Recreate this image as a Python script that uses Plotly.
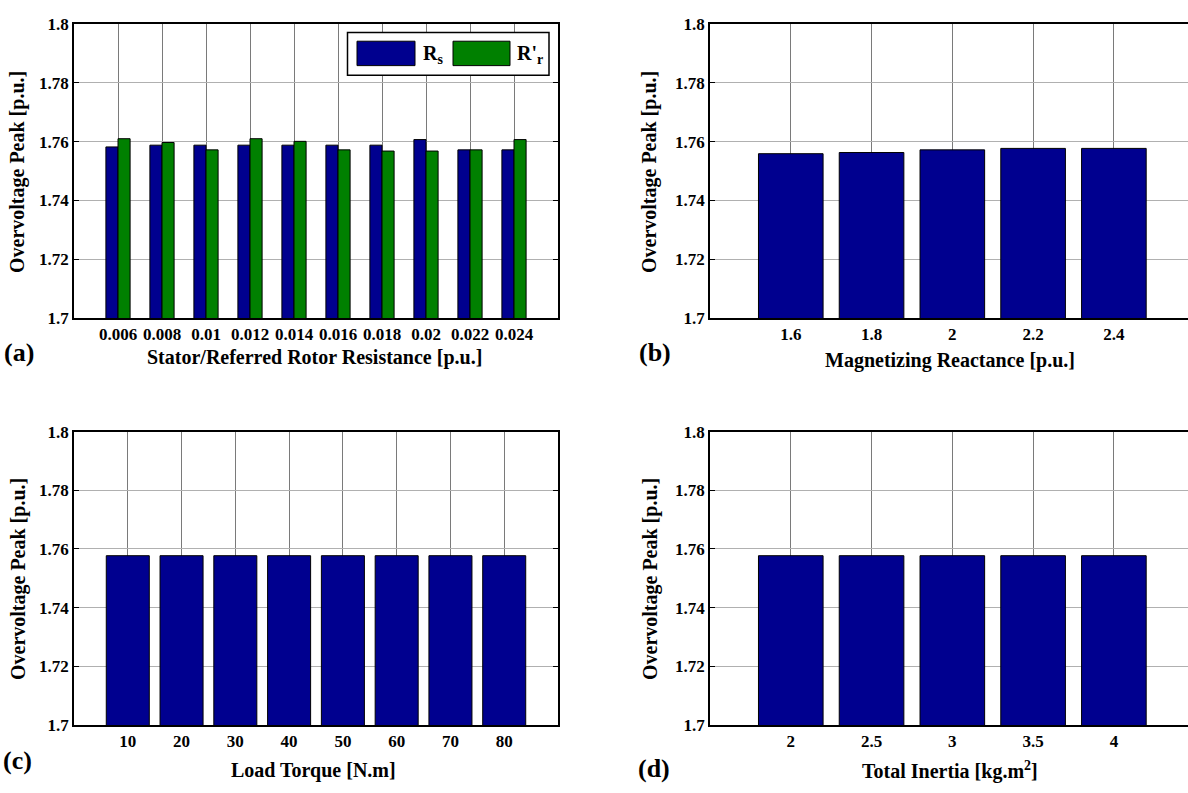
import plotly.graph_objects as go

W, H = 1188, 793

# ---------------- data ----------------
res_labels = ["0.006", "0.008", "0.01", "0.012", "0.014", "0.016", "0.018", "0.02", "0.022", "0.024"]
rs_vals = [1.7582, 1.7588, 1.7588, 1.7588, 1.7588, 1.7588, 1.7588, 1.7607, 1.7572, 1.7572]
rr_vals = [1.7610, 1.7597, 1.7572, 1.7610, 1.7601, 1.7572, 1.7568, 1.7568, 1.7572, 1.7607]

xm_labels = ["1.6", "1.8", "2", "2.2", "2.4"]
xm_vals = [1.7559, 1.7563, 1.7572, 1.7577, 1.7577]

tl_labels = ["10", "20", "30", "40", "50", "60", "70", "80"]
tl_vals = [1.7577, 1.7577, 1.7577, 1.7577, 1.7577, 1.7577, 1.7577, 1.7577]

j_labels = ["2", "2.5", "3", "3.5", "4"]
j_vals = [1.7577, 1.7577, 1.7577, 1.7577, 1.7577]

y_ticks = [1.7, 1.72, 1.74, 1.76, 1.78, 1.8]
y_ticktext = ["1.7", "1.72", "1.74", "1.76", "1.78", "1.8"]

BLUE = "#00008F"
GREEN = "#008000"
FONT = "Liberation Serif"


def px(x):
    return x / W


def py(y):
    return 1 - y / H


fig = go.Figure()

# panel (a)
fig.add_trace(go.Bar(x=res_labels, y=rs_vals, name="Rs", marker=dict(color=BLUE, line=dict(color="black", width=1)),
                     xaxis="x", yaxis="y", showlegend=False))
fig.add_trace(go.Bar(x=res_labels, y=rr_vals, name="R'r", marker=dict(color=GREEN, line=dict(color="black", width=1)),
                     xaxis="x", yaxis="y", showlegend=False))
# panel (b)
fig.add_trace(go.Bar(x=xm_labels, y=xm_vals, marker=dict(color=BLUE, line=dict(color="black", width=1)),
                     xaxis="x2", yaxis="y2", showlegend=False, width=0.8))
# panel (c)
fig.add_trace(go.Bar(x=tl_labels, y=tl_vals, marker=dict(color=BLUE, line=dict(color="black", width=1)),
                     xaxis="x3", yaxis="y3", showlegend=False, width=0.8))
# panel (d)
fig.add_trace(go.Bar(x=j_labels, y=j_vals, marker=dict(color=BLUE, line=dict(color="black", width=1)),
                     xaxis="x4", yaxis="y4", showlegend=False, width=0.8))

tickfont = dict(family=FONT, size=17, color="black", weight="bold")

# pixel geometry of the panels
left_L, right_L = 74, 558
left_R, right_R = 710, 1188
top_T, bot_T = 15.5, 316.5
top_B, bot_B = 433, 733.5

# x ranges (category index units)
rng_a = [-1, 10]
unit_R = (1113.7 - 790.6) / 4.0
rng_b = [-1, -1 + (right_R - left_R) / unit_R]
rng_c = [-1, 8]
rng_d = [-1, -1 + (right_R - left_R) / unit_R]


def xaxis(dom, rng, anchor, mirror=True):
    return dict(domain=dom, range=rng, type="category", anchor=anchor,
                showgrid=True, gridcolor="#7a7a7a", gridwidth=1,
                showline=True, linecolor="black", linewidth=1.5, mirror=mirror,
                ticks="", tickfont=tickfont, ticklabelstandoff=0, fixedrange=True)


def yaxis(dom, anchor, mirror):
    return dict(domain=dom, range=[1.7, 1.8], anchor=anchor,
                tickvals=y_ticks, ticktext=y_ticktext,
                showgrid=True, gridcolor="#b0b0b0", gridwidth=1,
                showline=True, linecolor="black", linewidth=1.5, mirror=mirror,
                ticks="inside", ticklen=5, tickcolor="black", tickwidth=1,
                tickfont=tickfont, zeroline=False, fixedrange=True)


fig.update_layout(
    width=W, height=H,
    margin=dict(l=0, r=0, t=0, b=0),
    paper_bgcolor="white", plot_bgcolor="white",
    barmode="group", bargap=0.45, bargroupgap=0.0,
    xaxis=xaxis([px(left_L), px(right_L)], rng_a, "y"),
    yaxis=yaxis([py(bot_T), py(top_T)], "x", "ticks"),
    xaxis2=xaxis([px(left_R), 1.0], rng_b, "y2"),
    yaxis2=yaxis([py(bot_T), py(top_T)], "x2", False),
    xaxis3=xaxis([px(left_L), px(right_L)], rng_c, "y3"),
    yaxis3=yaxis([py(bot_B), py(top_B)], "x3", "ticks"),
    xaxis4=xaxis([px(left_R), 1.0], rng_d, "y4"),
    yaxis4=yaxis([py(bot_B), py(top_B)], "x4", False),
)

labfont = dict(family=FONT, size=20, color="black", weight="bold")
panfont = dict(family=FONT, size=26, color="black", weight="bold")

anns = []


def ann(text, x, y, font, angle=0, xanchor="center"):
    anns.append(dict(text=text, x=px(x), y=py(y), xref="paper", yref="paper",
                     showarrow=False, font=font, textangle=angle,
                     xanchor=xanchor, yanchor="middle"))


# x labels
ann("Stator/Referred Rotor Resistance [p.u.]", 314, 357, labfont)
ann("Magnetizing Reactance [p.u.]", 950, 360, labfont)
ann("Load Torque [N.m]", 313, 780, labfont)
ann("Total Inertia [kg.m<sup>2</sup>]", 950, 780, labfont)
# y labels
for (xx, yy) in [(18, 167), (650, 167), (18, 584), (650, 584)]:
    ann("Overvoltage Peak [p.u.]", xx, yy, labfont, angle=-90)
# panel letters
ann("(a)", 19, 352, panfont)
ann("(b)", 655, 352, panfont)
ann("(c)", 17, 770, panfont)
ann("(d)", 654, 778, panfont)

# legend for panel (a)
shapes = [
    dict(type="rect", xref="paper", yref="paper", x0=px(347.5), x1=px(549), y0=py(68), y1=py(24),
         line=dict(color="black", width=1.5), fillcolor="white", layer="above"),
    dict(type="rect", xref="paper", yref="paper", x0=px(357), x1=px(415), y0=py(58), y1=py(33),
         line=dict(color="black", width=1), fillcolor=BLUE, layer="above"),
    dict(type="rect", xref="paper", yref="paper", x0=px(453), x1=px(510), y0=py(58), y1=py(33),
         line=dict(color="black", width=1), fillcolor=GREEN, layer="above"),
]
legfont = dict(family=FONT, size=20, color="black", weight="bold")
ann("R<sub>s</sub>", 421, 47, legfont, xanchor="left")
ann("R'<sub>r</sub>", 515, 47, legfont, xanchor="left")

fig.update_layout(annotations=anns, shapes=shapes)

fig.write_html("out.html")
